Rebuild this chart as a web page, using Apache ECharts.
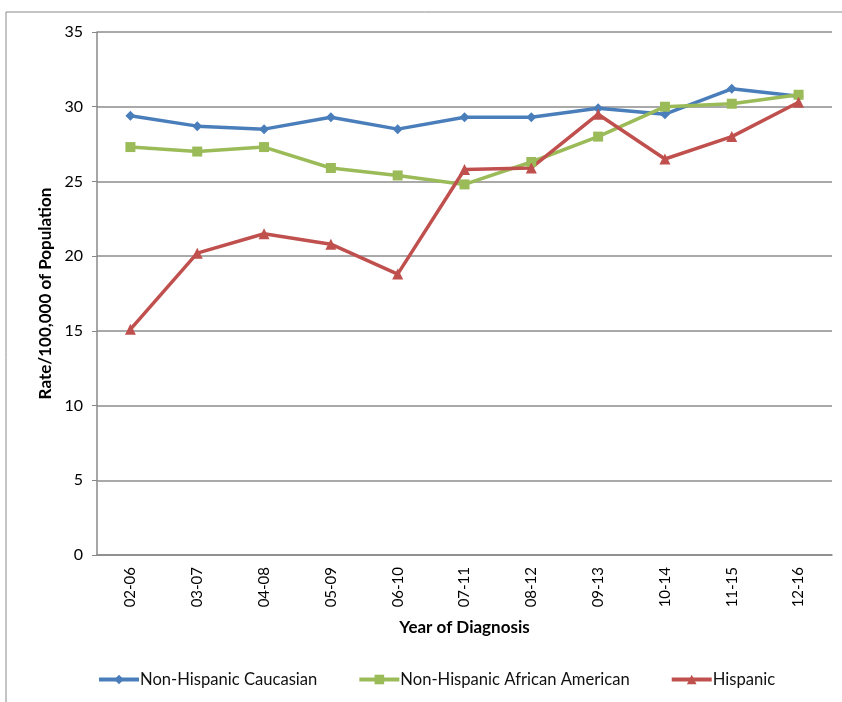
<!DOCTYPE html>
<html><head><meta charset="utf-8">
<script src="https://cdn.jsdelivr.net/npm/echarts@6/dist/echarts.min.js"></script>
<style>html,body{margin:0;padding:0;background:#fff}#c{width:842px;height:702px}</style>
</head><body><div id="c"></div>
<script>
const categories = ['02-06','03-07','04-08','05-09','06-10','07-11','08-12','09-13','10-14','11-15','12-16'];
const caucasian = [29.4, 28.7, 28.5, 29.3, 28.5, 29.3, 29.3, 29.9, 29.5, 31.2, 30.7];
const africanAmerican = [27.3, 27.0, 27.3, 25.9, 25.4, 24.8, 26.3, 28.0, 30.0, 30.2, 30.8];
const hispanic = [15.1, 20.2, 21.5, 20.8, 18.8, 25.8, 25.9, 29.5, 26.5, 28.0, 30.3];
const seriesNames = ['Non-Hispanic Caucasian','Non-Hispanic African American','Hispanic'];

const font = 'Lato, "Open Sans", sans-serif';
const chart = echarts.init(document.getElementById('c'), null, {renderer:'canvas'});
function line(name, data, color, symbol, size){
  return {name, type:'line', data, symbol, symbolSize:size, showSymbol:true,
    lineStyle:{color, width:3.5}, itemStyle:{color}, color, animation:false};
}
chart.setOption({
  animation:false,
  graphic:[{type:'rect', shape:{x:6, y:12, width:900, height:800}, style:{fill:'none', stroke:'#8a8a8a', lineWidth:1}, silent:true}],
  grid:{left:97, right:10, top:32, bottom:147},
  legend:{bottom:9, left:92, itemGap:40, itemWidth:40, itemHeight:12,
    lineStyle:{width:4},
    textStyle:{fontFamily:font, fontSize:16.6, color:'#111', padding:[0,0,0,-4]},
    data:seriesNames},
  xAxis:{type:'category', data:categories, boundaryGap:true,
    name:'Year of Diagnosis', nameLocation:'middle', nameGap:64,
    nameTextStyle:{fontFamily:font, fontSize:17, fontWeight:'bold', color:'#000'},
    axisLine:{lineStyle:{color:'#888', width:1.5}},
    axisTick:{show:false},
    axisLabel:{rotate:90, fontFamily:font, fontSize:15, color:'#000', margin:12}},
  yAxis:{type:'value', min:0, max:35, interval:5,
    name:'Rate/100,000 of Population', nameLocation:'middle', nameGap:42,
    nameTextStyle:{fontFamily:font, fontSize:17, fontWeight:'bold', color:'#000'},
    axisLine:{show:true, lineStyle:{color:'#888', width:1.5}},
    axisTick:{show:true, inside:false, length:5, lineStyle:{color:'#888'}},
    splitLine:{lineStyle:{color:'#8c8c8c', width:1.5}},
    axisLabel:{fontFamily:font, fontSize:16, color:'#000', margin:14}},
  series:[
    line(seriesNames[0], caucasian, '#4A7EBB', 'diamond', 10),
    line(seriesNames[1], africanAmerican, '#9BBB59', 'rect', 10),
    line(seriesNames[2], hispanic, '#C0504D', 'triangle', 11)
  ]
});
</script></body></html>
